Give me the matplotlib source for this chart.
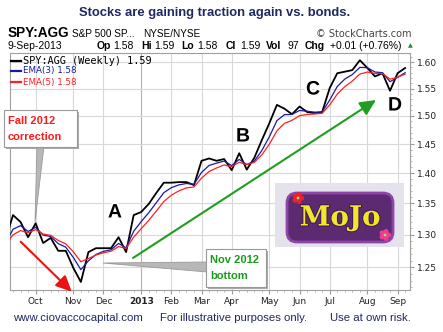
import numpy as np
import pandas as pd
import matplotlib
matplotlib.use('Agg')
import matplotlib.pyplot as plt
from matplotlib.transforms import Affine2D
from matplotlib.patches import Rectangle, Polygon, FancyArrowPatch, FancyBboxPatch, Circle
from matplotlib.ticker import FixedLocator, NullFormatter, FixedFormatter
import matplotlib.patheffects as pe

W, H = 443, 332

# weekly close SPY:AGG, first bar = week of 2012-08-27
start_week = '2012-08-27'
close = [1.280, 1.292, 1.331, 1.320, 1.296, 1.318, 1.287, 1.295, 1.275, 1.275,
         1.249, 1.228, 1.273, 1.279, 1.279, 1.279, 1.296, 1.273, 1.331, 1.336,
         1.349, 1.367, 1.384, 1.384, 1.385, 1.385, 1.380, 1.421, 1.425, 1.421,
         1.424, 1.405, 1.434, 1.406, 1.426, 1.457, 1.487, 1.520, 1.513, 1.503,
         1.517, 1.507, 1.505, 1.507, 1.551, 1.579, 1.582, 1.585, 1.604, 1.589,
         1.573, 1.579, 1.546, 1.579, 1.589]

month_ticks = ['2012-10-01', '2012-11-05', '2012-12-03', '2013-01-07', '2013-02-04', '2013-03-04',
               '2013-04-01', '2013-05-06', '2013-06-03', '2013-07-01', '2013-08-05', '2013-09-02']
month_labels = ['Oct', 'Nov', 'Dec', '2013', 'Feb', 'Mar', 'Apr', 'May', 'Jun', 'Jul', 'Aug', 'Sep']
price_ticks = [1.25, 1.30, 1.35, 1.40, 1.45, 1.50, 1.55, 1.60]

dates = pd.date_range(start_week, periods=len(close), freq='W-MON')
s = pd.Series(close, index=dates)
ema3 = s.ewm(span=3, adjust=False).mean()
ema5 = s.ewm(span=5, adjust=False).mean()

x0, x1 = pd.Timestamp('2012-09-07 05:00'), pd.Timestamp('2013-09-13 13:00')

fig = plt.figure(figsize=(W / 100, H / 100), dpi=100)
fig.patch.set_facecolor('white')
# pixel coordinates, origin top-left
T = Affine2D().scale(1 / W, -1 / H).translate(0, 1) + fig.transFigure

ax = fig.add_axes([10 / W, 42 / H, 400 / W, 237 / H])
ax.set_yscale('log')
ax.plot(s.index, s.values, color='black', lw=1.3, zorder=3)
ax.plot(ema3.index, ema3.values, color='#1a1aa0', lw=0.9, zorder=4)
ax.plot(ema5.index, ema5.values, color='#ff2020', lw=0.9, zorder=5)

ax.yaxis.set_major_locator(FixedLocator(price_ticks))
ax.yaxis.set_major_formatter(FixedFormatter(['%.2f' % v for v in price_ticks]))
ax.yaxis.set_minor_locator(FixedLocator(np.arange(1.22, 1.62, 0.01)))
ax.yaxis.set_minor_formatter(NullFormatter())
ax.yaxis.tick_right()

ax.set_xticks(pd.to_datetime(month_ticks))
ax.set_xticklabels(month_labels)
ax.set_xticks(dates[(dates >= x0) & (dates <= x1)], minor=True)
for lab in ax.get_xticklabels():
    if lab.get_text() == '2013':
        lab.set_fontweight('bold')

ax.set_xlim(x0, x1)
ax.set_ylim(1.2162, 1.618)

ax.tick_params(axis='both', which='major', labelsize=6.5, length=3, color='#999999',
               labelcolor='#222222', pad=2)
ax.tick_params(axis='both', which='minor', length=1.5, color='#aaaaaa')
ax.grid(True, which='major', color='#d8d8d8', lw=0.8)
ax.get_xgridlines()[3].set_color('#b0b0b0')
for sp in ax.spines.values():
    sp.set_color('#a0a0a0')
    sp.set_linewidth(0.8)

# header
navy = '#1f2860'
fig.text(215, 13, 'Stocks are gaining traction again vs. bonds.', transform=T, ha='center', va='center',
         family='Liberation Sans', fontweight='bold', fontsize=9.4, color=navy)
fig.text(8, 33, 'SPY:AGG', transform=T, va='center', family='Liberation Sans', fontweight='bold',
         fontsize=9.8, color='black')
fig.text(72, 34, 'S&P 500 SP...', transform=T, va='center', family='Liberation Sans', fontsize=7.2)
fig.text(143, 34, 'NYSE/NYSE', transform=T, va='center', family='Liberation Sans', fontsize=7.2)
fig.text(412, 34, '© StockCharts.com', transform=T, va='center', ha='right', family='DejaVu Sans',
         fontsize=7, color='#444444')

row2 = [(8, '9-Sep-2013', False), (97, 'Op', True), (113, '1.58', False), (141, 'Hi', True),
        (154, '1.59', False), (181, 'Lo', True), (197, '1.58', False), (226, 'Cl', True),
        (240, '1.59', False), (266, 'Vol', True), (288, '97', False), (305, 'Chg', True),
        (330, '+0.01 (+0.76%)', False)]
for x, txt, bold in row2:
    fig.text(x, 46, txt, transform=T, va='center', family='Liberation Sans',
             fontweight='bold' if bold else 'normal', fontsize=7.5)
fig.text(410, 46, '▲', transform=T, va='center', ha='center', family='DejaVu Sans', fontsize=4.5,
         color='#2e7d32')

# legend inside plot
fig.add_artist(plt.Line2D([11, 21], [61, 61], transform=T, color='black', lw=1.6))
fig.text(23, 61, 'SPY:AGG (Weekly) 1.59', transform=T, va='center', family='DejaVu Sans Mono',
         fontsize=7.4, color='black')
fig.add_artist(plt.Line2D([11, 21], [71, 71], transform=T, color='#1a1aa0', lw=1.6))
fig.text(23, 71, 'EMA(3) 1.58', transform=T, va='center', family='DejaVu Sans', fontsize=6.3,
         color='#1a1aa0')
fig.add_artist(plt.Line2D([11, 21], [82, 82], transform=T, color='#ff2020', lw=1.6))
fig.text(23, 82, 'EMA(5) 1.58', transform=T, va='center', family='DejaVu Sans', fontsize=6.3,
         color='#ff2020')

# callout boxes
def callout(x, y, w, h, lines, color, tail):
    fig.add_artist(Polygon(tail, closed=True, transform=T, facecolor='#b8b8b8',
                           edgecolor='#999999', lw=0.6, zorder=6))
    fig.add_artist(Rectangle((x + 2, y + 2), w, h, transform=T, facecolor='#aaaaaa',
                             edgecolor='none', zorder=6))
    fig.add_artist(Rectangle((x, y), w, h, transform=T, facecolor='white',
                             edgecolor='#999999', lw=0.8, zorder=7))
    for i, ln in enumerate(lines):
        fig.text(x + 4, y + 11 + i * 16, ln, transform=T, va='center', family='Liberation Sans',
                 fontweight='bold', fontsize=8, color=color, zorder=8)

callout(4, 110, 73, 37, ['Fall 2012', 'correction'], '#ff1a1a',
        [(37, 146), (44, 146), (35, 222)])
callout(206, 249, 60, 38, ['Nov 2012', 'bottom'], '#1a9a1a',
        [(207, 262), (207, 272), (103, 263)])

# arrows
fig.add_artist(FancyArrowPatch((20.7, 241.7), (71.7, 291.7), transform=T,
                               arrowstyle='-|>,head_length=0.95,head_width=0.45', mutation_scale=10,
                               color='#ee1111', lw=1.5, shrinkA=0, shrinkB=0, zorder=6))
fig.add_artist(FancyArrowPatch((133, 258), (376, 100), transform=T,
                               arrowstyle='-|>,head_length=0.95,head_width=0.45', mutation_scale=10,
                               color='#1f9e1f', lw=1.5, shrinkA=0, shrinkB=0, zorder=6))

# letters
for x, y, ch in [(115, 213, 'A'), (243, 137, 'B'), (313, 90, 'C'), (395, 106, 'D')]:
    fig.text(x, y, ch, transform=T, ha='center', va='center', family='Liberation Sans',
             fontweight='bold', fontsize=14, color='black', zorder=8,
             path_effects=[pe.withStroke(linewidth=3, foreground='white')])

# MoJo logo
fig.add_artist(Rectangle((275, 183), 129, 64, transform=T, facecolor='#e4e2ea',
                         edgecolor='none', zorder=6))
fig.add_artist(FancyBboxPatch((289, 195), 102, 45, transform=T,
                              boxstyle='round,pad=2,rounding_size=10', facecolor='#5c2a70',
                              edgecolor='#8d46a8', lw=2, zorder=7))
fig.text(340, 218, 'MoJo', transform=T, ha='center', va='center', family='DejaVu Serif',
         fontweight='bold', fontsize=20, color='#f3e52a', zorder=8,
         path_effects=[pe.withStroke(linewidth=1.5, foreground='#3f1a52')])
for cx, cy, col in [(298, 198, '#e8232e'), (385, 235, '#ee3c8e')]:
    for a in np.linspace(0, 2 * np.pi, 6)[:-1]:
        fig.add_artist(Circle((cx + 3.5 * np.cos(a), cy + 3.5 * np.sin(a)), 2.6, transform=T,
                              facecolor=col, edgecolor='none', zorder=9))
    fig.add_artist(Circle((cx, cy), 1.4, transform=T, facecolor='#9be07a', edgecolor='none', zorder=10))

# footer
fig.text(13, 318, 'www.ciovaccocapital.com', transform=T, va='center', family='Liberation Sans',
         fontsize=8.2, color=navy)
fig.text(160, 318, 'For illustrative purposes only.', transform=T, va='center', family='Liberation Sans',
         fontsize=8.2, color=navy)
fig.text(330, 318, 'Use at own risk.', transform=T, va='center', family='Liberation Sans',
         fontsize=8.2, color=navy)

fig.savefig('out.png', dpi=100)
